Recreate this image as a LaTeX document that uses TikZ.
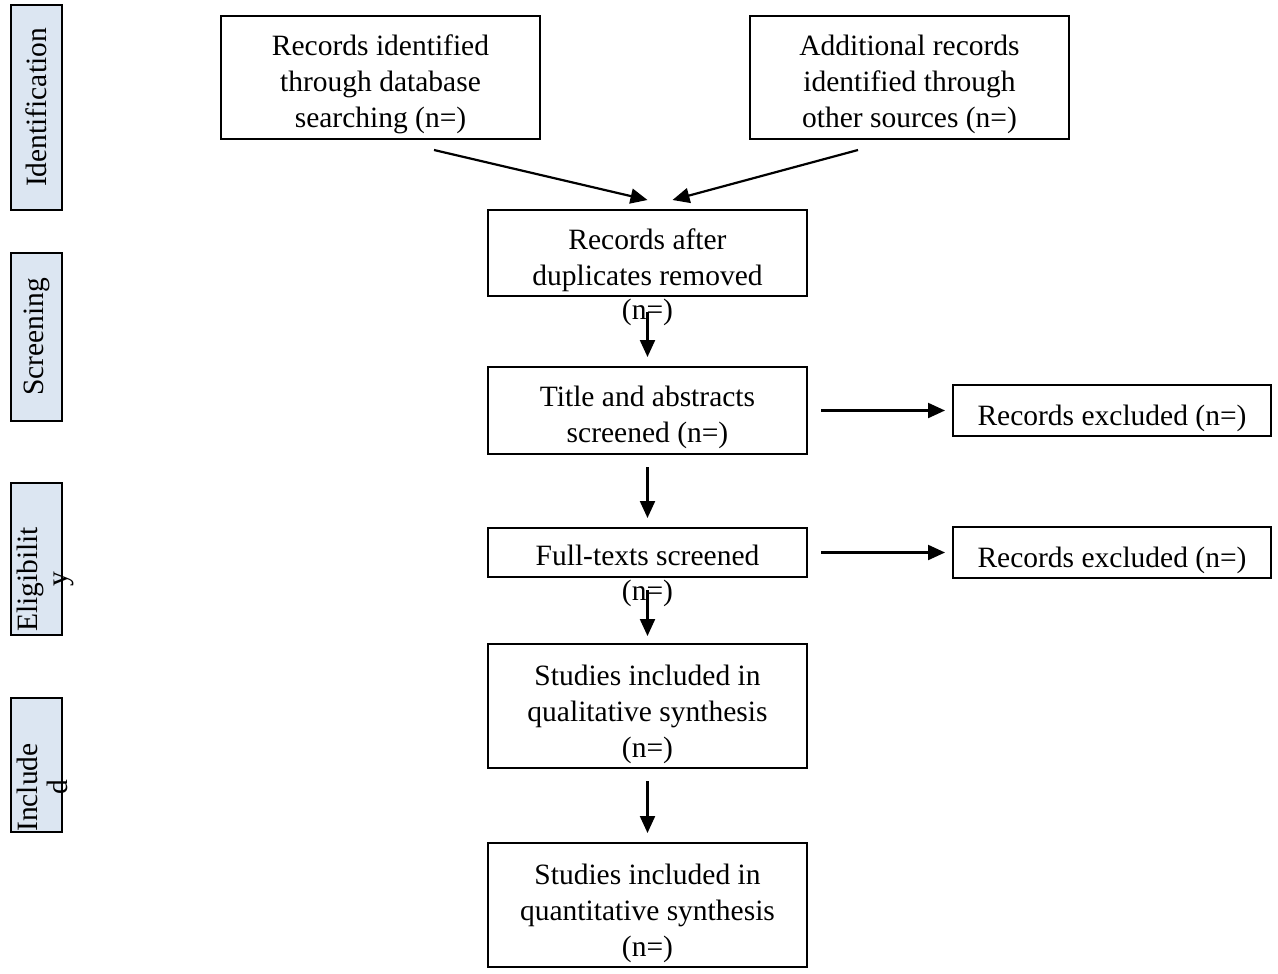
\documentclass[tikz,border=0pt]{standalone}
\usepackage{fontspec}
\setmainfont{Liberation Serif}
\usetikzlibrary{arrows.meta,positioning}

\definecolor{sidefill}{HTML}{DCE6F2}
% two-line phase label that spills out of its box, as in the original
\newcommand{\spillinglabel}[3]{\smash{\raisebox{-16pt}{\renewcommand{\arraystretch}{0.85}\begin{tabular}{@{}c@{}}#1\\#2\end{tabular}}}\hspace*{#3}}

\begin{document}
\begin{tikzpicture}[
  x=1pt, y=1pt,
  font=\fontsize{29.5}{36}\selectfont,
  box/.style={draw, line width=1.5pt, align=center, minimum width=319pt, inner sep=0pt, outer sep=0pt,
    text height=#1, text depth=0pt},
  box/.default=29pt,
  exclbox/.style={draw, line width=1.5pt, minimum width=318pt, minimum height=51pt, inner sep=0pt, outer sep=0pt,
    text height=29pt, text depth=0pt},
  phase/.style={draw, line width=1.5pt, fill=sidefill, rotate=90, minimum height=51pt, inner sep=0pt, outer sep=0pt},
  flow/.style={-{Triangle[length=17pt,width=15pt]}, line width=2.2pt, shorten <=13pt, shorten >=10pt}
]
\useasboundingbox (0,0) rectangle (1278,-974);

% phase labels on the left
\node[phase, minimum width=205pt] (ident) at (36.5,-107.5) {Identification};
\node[phase, minimum width=168pt] (screen) at (36.5,-337) {Screening};
\node[phase, minimum width=152pt] (elig) at (36.5,-559) {\spillinglabel{Eligibilit}{y}{41pt}};
\node[phase, minimum width=134pt] (incl) at (36.5,-765) {\spillinglabel{Include}{d}{45pt}};

% sources
\node[box=100pt, minimum height=123pt] (dbsearch) at (380.5,-77.5) {Records identified\\through database\\searching (n=)};
\node[box=100pt, minimum height=123pt, right=210pt of dbsearch] (othersrc) {Additional records\\identified through\\other sources (n=)};

% main column
\node[box=65pt, minimum height=86pt, label={[inner sep=0pt, label distance=3pt]below:(n=)}] (dedup) at (647.5,-253) {Records after\\duplicates removed};
\node[box=64pt, minimum height=87pt, below=71pt of dedup] (screened) {Title and abstracts\\screened (n=)};
\node[box=26pt, minimum height=49pt, below=74pt of screened, label={[inner sep=0pt, label distance=3pt]below:(n=)}] (fulltext) {Full-texts screened};
\node[box=103pt, minimum height=124pt, below=67pt of fulltext] (qualit) {Studies included in\\qualitative synthesis\\(n=)};
\node[box=103pt, minimum height=124pt, below=75pt of qualit] (quantit) {Studies included in\\quantitative synthesis\\(n=)};

% exclusions
\node[exclbox, right=146pt of screened] (exclabs) {Records excluded (n=)};
\node[exclbox, right=146pt of fulltext] (exclfull) {Records excluded (n=)};

% free ends of the two merging arrows
\coordinate (dbfoot) at ([shift={(53.5,-11)}]dbsearch.south);
\coordinate (otherfoot) at ([shift={(-51.5,-11)}]othersrc.south);
\coordinate (dedupleft) at ([yshift=10pt]dedup.north);
\coordinate (dedupright) at ([shift={(25,10)}]dedup.north);

\draw[flow, shorten <=0pt, shorten >=0pt] (dbfoot) -- (dedupleft);
\draw[flow, shorten <=0pt, shorten >=0pt] (otherfoot) -- (dedupright);

\draw[flow, shorten <=16pt] (dedup) -- (screened);
\draw[flow] (screened) -- (fulltext);
\draw[flow, shorten >=8pt] (fulltext) -- (qualit);
\draw[flow] (qualit) -- (quantit);
\draw[flow, shorten <=14pt, shorten >=8pt] (screened) -- (exclabs);
\draw[flow, shorten <=14pt, shorten >=8pt] (fulltext) -- (exclfull);

\end{tikzpicture}
\end{document}
